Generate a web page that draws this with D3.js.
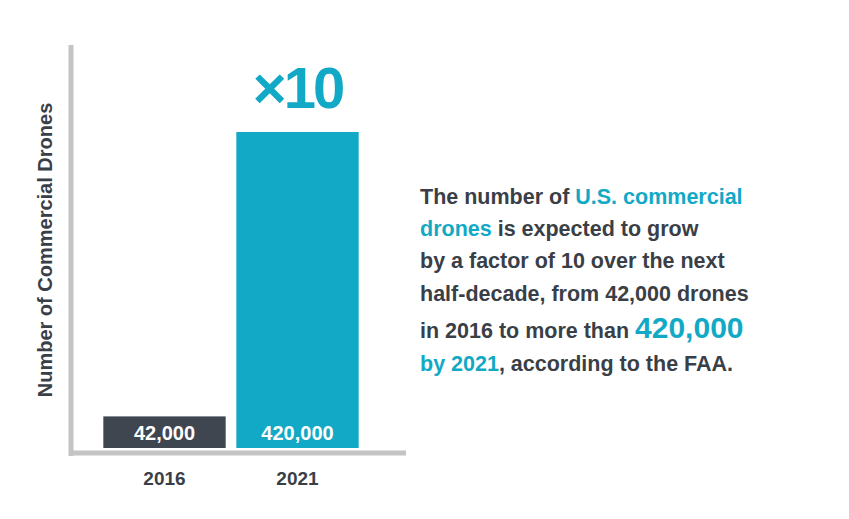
<!DOCTYPE html>
<html><head><meta charset="utf-8">
<script src="https://cdn.jsdelivr.net/npm/d3@7"></script>
<style>body{margin:0;background:#fff}svg{font-family:"Liberation Sans",Arial,sans-serif}</style>
</head><body>
<svg id="c" width="849" height="519"></svg>
<script>
const years = ['2016', '2021'];
const drones = [42000, 420000];
const labels = ['42,000', '420,000'];
const colors = ['#3f4650', '#12a9c6'];

const svg = d3.select('#c');
const x = d3.scaleBand().domain(years).range([98, 364]).paddingInner(0.08).paddingOuter(0.04);
const y = d3.scaleLinear().domain([0, 420000]).range([448, 132]);

// bars
svg.selectAll('rect.bar').data(years).join('rect')
  .attr('x', d => x(d)).attr('width', x.bandwidth())
  .attr('y', (d, i) => y(drones[i])).attr('height', (d, i) => y(0) - y(drones[i]))
  .attr('fill', (d, i) => colors[i]);

svg.selectAll('text.val').data(years).join('text')
  .attr('x', d => x(d) + x.bandwidth() / 2).attr('y', 440)
  .attr('text-anchor', 'middle').attr('fill', '#fff')
  .attr('font-size', 20).attr('font-weight', 'bold')
  .text((d, i) => labels[i]);

// axes lines
svg.append('line').attr('x1', 71).attr('x2', 71).attr('y1', 45).attr('y2', 456)
  .attr('stroke', '#c4c4c4').attr('stroke-width', 5);
svg.append('line').attr('x1', 69).attr('x2', 406).attr('y1', 453).attr('y2', 453)
  .attr('stroke', '#c4c4c4').attr('stroke-width', 5);

// x ticks
svg.selectAll('text.tick').data(years).join('text')
  .attr('x', d => x(d) + x.bandwidth() / 2).attr('y', 485)
  .attr('text-anchor', 'middle').attr('fill', '#3a3f47')
  .attr('font-size', 19).attr('font-weight', 'bold').text(d => d);

// y label
svg.append('text').attr('transform', 'translate(52,250) rotate(-90)')
  .attr('text-anchor', 'middle').attr('fill', '#3a3f47')
  .attr('font-size', 20).attr('font-weight', 'bold').text('Number of Commercial Drones');

// x10
svg.append('text').attr('x', x('2021') + x.bandwidth() / 2).attr('y', 108)
  .attr('text-anchor', 'middle').attr('fill', '#12a9c6')
  .attr('font-size', 58).attr('font-weight', 'bold').attr('letter-spacing', -3).text('×10');

// annotation
const lines = [
  [['The number of ', 0], ['U.S. commercial', 1]],
  [['drones', 1], [' is expected to grow', 0]],
  [['by a factor of 10 over the next', 0]],
  [['half-decade, from 42,000 drones', 0]],
  [['in 2016 to more than ', 0], ['420,000', 2]],
  [['by 2021', 1], [', according to the FAA.', 0]]
];
const baselines = [204, 236, 268, 301, 338, 371];
lines.forEach((ln, i) => {
  const t = svg.append('text').attr('x', 420).attr('y', baselines[i])
    .attr('font-size', 21.5).attr('font-weight', 'bold').attr('fill', '#3a3f47');
  ln.forEach(([s, k]) => {
    const sp = t.append('tspan').text(s);
    if (k) sp.attr('fill', '#12a9c6');
    if (k === 2) sp.attr('font-size', 30);
  });
});
</script>
</body></html>
